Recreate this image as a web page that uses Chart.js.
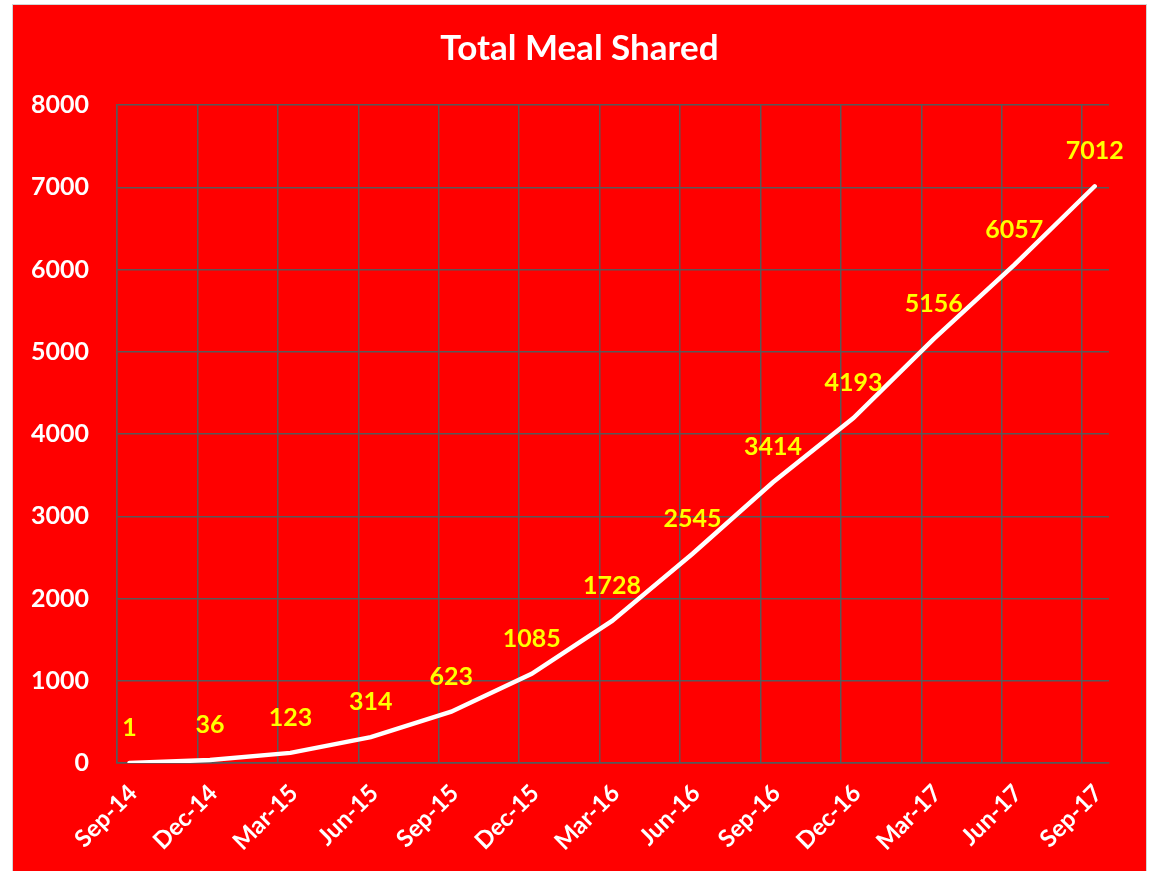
<!DOCTYPE html>
<html lang="en">
<head>
  <meta charset="UTF-8">
  <title>Total Meal Shared</title>
  <script src="https://cdn.jsdelivr.net/npm/chart.js"></script>
  <style>
    html, body { margin: 0; padding: 0; background: #fff; }
    /* red chart frame with thin grey border */
    .frame {
      position: absolute;
      left: 12px; top: 4px;
      width: 1133px; height: 867px;
      background: #ff0000;
      border: 1px solid #d4d4d4;
      border-bottom: none;
    }
    .chart-container { position: relative; width: 1133px; height: 867px; }
  </style>
</head>
<body>
  <div class="frame">
    <div class="chart-container"><canvas id="mealChart"></canvas></div>
  </div>

<script>
  // quarter labels and cumulative meals shared
  const categories = ['Sep-14', 'Dec-14', 'Mar-15', 'Jun-15', 'Sep-15', 'Dec-15', 'Mar-16',
                      'Jun-16', 'Sep-16', 'Dec-16', 'Mar-17', 'Jun-17', 'Sep-17'];
  const meals = [1, 36, 123, 314, 623, 1085, 1728, 2545, 3414, 4193, 5156, 6057, 7012];
  const yTicks = [0, 1000, 2000, 3000, 4000, 5000, 6000, 7000, 8000];

  // each reading is taken mid-month; x is months since Sep 2014
  const dayOfMonth = 15;
  const points = meals.map((v, i) => ({ x: i * 3 + (dayOfMonth - 1) / 30, y: v }));

  const gridColor = '#595959';
  const labelFont = 'Lato, "Open Sans", sans-serif';

  // yellow value labels above each point
  const valueLabels = {
    id: 'valueLabels',
    afterDatasetsDraw(chart) {
      const ctx = chart.ctx;
      const meta = chart.getDatasetMeta(0);
      ctx.save();
      ctx.font = 'bold 25px ' + labelFont;
      ctx.fillStyle = '#ffff00';
      ctx.textAlign = 'center';
      ctx.textBaseline = 'middle';
      meta.data.forEach((pt, i) => {
        ctx.fillText(String(meals[i]), pt.x, pt.y - 35);
      });
      ctx.restore();
    }
  };

  const ctx = document.getElementById('mealChart').getContext('2d');
  new Chart(ctx, {
    type: 'line',
    data: {
      datasets: [{
        label: 'Total Meal Shared',
        data: points,
        borderColor: '#ffffff',
        borderWidth: 4.5,
        borderCapStyle: 'round',
        pointRadius: 0,
        tension: 0,
        fill: false
      }]
    },
    options: {
      responsive: true,
      maintainAspectRatio: false,
      animation: false,
      layout: { padding: 0 },
      plugins: {
        legend: { display: false },
        tooltip: { enabled: false },
        title: {
          display: true,
          text: 'Total Meal Shared',
          color: '#ffffff',
          font: { family: labelFont, size: 35, weight: 'bold' },
          padding: { top: 23, bottom: 35 }
        }
      },
      scales: {
        x: {
          type: 'linear',
          min: 0,
          max: 37,
          afterFit: s => { s.height = 109; },
          grid: { color: gridColor, lineWidth: 1.5, drawTicks: false },
          border: { color: gridColor, width: 1.5 },
          ticks: {
            stepSize: 3,
            includeBounds: false,
            autoSkip: false,
            minRotation: 45,
            maxRotation: 45,
            padding: 16,
            labelOffset: 16,
            color: '#ffffff',
            font: { family: labelFont, size: 24, weight: 'bold' },
            callback: v => (v % 3 === 0 ? categories[v / 3] : '')
          }
        },
        y: {
          min: yTicks[0],
          max: yTicks[yTicks.length - 1],
          afterFit: s => { s.width = 104; },
          grid: { color: gridColor, lineWidth: 1.5, drawTicks: false },
          border: { color: gridColor, width: 1.5 },
          ticks: {
            stepSize: 1000,
            padding: 28,
            color: '#ffffff',
            font: { family: labelFont, size: 25, weight: 'bold' },
            callback: v => String(v)
          }
        },
        // empty right-hand spacer so the title stays centred on the frame
        spacer: {
          type: 'linear',
          position: 'right',
          display: true,
          afterFit: s => { s.width = 37; },
          grid: { display: false },
          border: { display: false },
          ticks: { display: false }
        }
      }
    },
    plugins: [valueLabels]
  });
</script>
</body>
</html>
